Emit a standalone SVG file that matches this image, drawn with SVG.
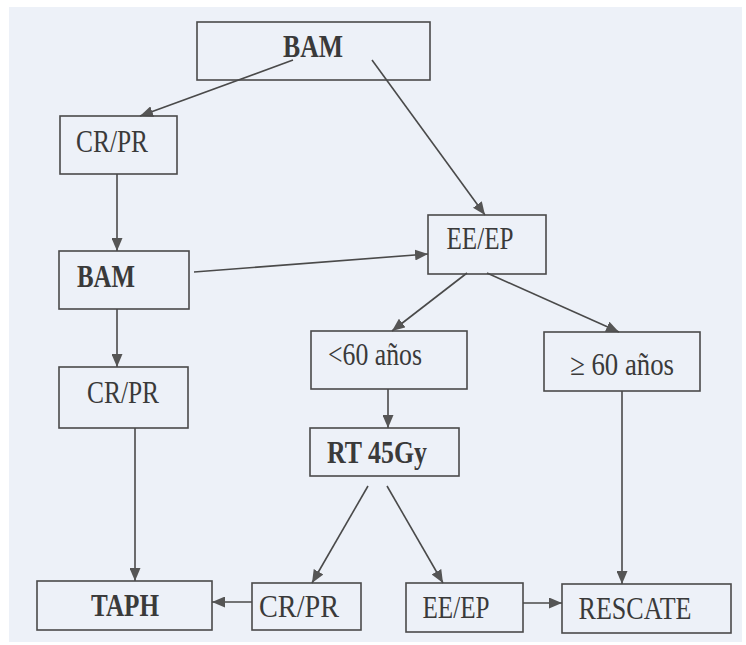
<svg xmlns="http://www.w3.org/2000/svg" width="746" height="645" viewBox="0 0 746 645">
<style>
.box{fill:none;stroke:#4a4a4a;stroke-width:1.6}
.c{stroke:#4a4a4a;stroke-width:1.6;fill:none;marker-end:url(#ah)}
</style>
<defs>
<marker id="ah" markerWidth="13" markerHeight="11" refX="13" refY="5.5" orient="auto" markerUnits="userSpaceOnUse">
<path d="M0,0 L13,5.5 L0,11 Z" fill="#555"/>
</marker>
</defs>
<rect x="0" y="0" width="746" height="645" fill="#ffffff"/>
<rect x="9" y="7" width="733" height="635" fill="#edf1f8"/>
<g id="connectors">
<line class="c" x1="293" y1="60" x2="140" y2="116"/>
<line class="c" x1="372" y1="60" x2="485" y2="215"/>
<line class="c" x1="117" y1="174" x2="117" y2="251"/>
<line class="c" x1="194" y1="272" x2="428" y2="254"/>
<line class="c" x1="117" y1="309" x2="117" y2="367"/>
<line class="c" x1="135" y1="428" x2="135" y2="581"/>
<line class="c" x1="467" y1="273" x2="392" y2="331"/>
<line class="c" x1="487" y1="273" x2="619" y2="332"/>
<line class="c" x1="388" y1="389" x2="388" y2="428"/>
<line class="c" x1="622" y1="391" x2="622" y2="584"/>
<line class="c" x1="368" y1="486" x2="312" y2="583"/>
<line class="c" x1="387" y1="486" x2="443" y2="583"/>
<line class="c" x1="252" y1="602" x2="212" y2="602"/>
<line class="c" x1="523" y1="603" x2="562" y2="603"/>
</g>
<g font-family="Liberation Serif, Times New Roman, serif" font-size="31" fill="#3a3a3a" text-anchor="middle">
<g id="bam1"><rect class="box" x="197" y="22" width="233" height="58"/><text font-weight="bold" x="313" y="57" textLength="60" lengthAdjust="spacingAndGlyphs">BAM</text></g>
<g id="crpr1"><rect class="box" x="60" y="116" width="117" height="58"/><text x="112" y="152" textLength="72" lengthAdjust="spacingAndGlyphs">CR/PR</text></g>
<g id="bam2"><rect class="box" x="59" y="251" width="130" height="58"/><text font-weight="bold" x="106" y="287" textLength="58" lengthAdjust="spacingAndGlyphs">BAM</text></g>
<g id="crpr2"><rect class="box" x="59" y="367" width="129" height="61"/><text x="123" y="403" textLength="72" lengthAdjust="spacingAndGlyphs">CR/PR</text></g>
<g id="eeep1"><rect class="box" x="428" y="215" width="118" height="59"/><text x="480" y="249" textLength="67" lengthAdjust="spacingAndGlyphs">EE/EP</text></g>
<g id="menor60"><rect class="box" x="311" y="331" width="156" height="58"/><text x="375" y="365" textLength="94" lengthAdjust="spacingAndGlyphs">&lt;60 años</text></g>
<g id="mayor60"><rect class="box" x="544" y="332" width="156" height="59"/><text x="622" y="375" textLength="104" lengthAdjust="spacingAndGlyphs">≥ 60 años</text></g>
<g id="rt"><rect class="box" x="310" y="428" width="149" height="48"/><text font-weight="bold" x="377" y="463" textLength="100" lengthAdjust="spacingAndGlyphs">RT 45Gy</text></g>
<g id="taph"><rect class="box" x="37" y="581" width="175" height="49"/><text font-weight="bold" x="125" y="616" textLength="68" lengthAdjust="spacingAndGlyphs">TAPH</text></g>
<g id="crpr3"><rect class="box" x="252" y="583" width="109" height="47"/><text x="299" y="617" textLength="80" lengthAdjust="spacingAndGlyphs">CR/PR</text></g>
<g id="eeep2"><rect class="box" x="406" y="583" width="117" height="49"/><text x="456" y="618" textLength="67" lengthAdjust="spacingAndGlyphs">EE/EP</text></g>
<g id="rescate"><rect class="box" x="562" y="584" width="169" height="49"/><text x="635" y="619" textLength="113" lengthAdjust="spacingAndGlyphs">RESCATE</text></g>
</g>
</svg>
